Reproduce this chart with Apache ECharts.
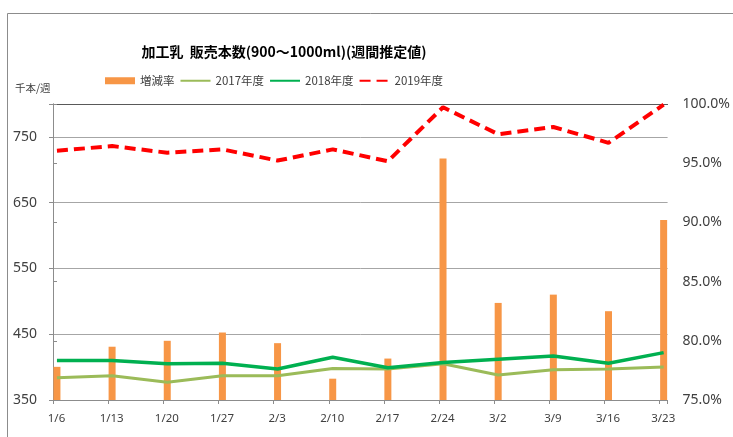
<!DOCTYPE html>
<html>
<head>
<meta charset="utf-8">
<script src="https://cdn.jsdelivr.net/npm/echarts@6/dist/echarts.min.js"></script>
<style>
html,body{margin:0;padding:0;background:#fff;}
#c{width:733px;height:437px;}
</style>
</head>
<body>
<div id="c"></div>
<script>
var categories = ['1/6','1/13','1/20','1/27','2/3','2/10','2/17','2/24','3/2','3/9','3/16','3/23'];
var rate  = [77.8, 79.5, 80.0, 80.7, 79.8, 76.8, 78.5, 95.4, 83.2, 83.9, 82.5, 90.2];
var y2017 = [384, 387, 377, 387, 387, 398, 397, 405, 388, 396, 397, 400];
var y2018 = [410, 410, 405, 406, 397, 415, 399, 407, 412, 417, 406, 422];
var y2019 = [729, 736, 726, 731, 714, 731, 713, 795, 754, 765, 741, 799];
var leftTicks = {min: 350, max: 800, interval: 100};
var rightTicks = {min: 75, max: 100, interval: 5};

// weekly points on a day scale: each week spans 7 days, point at the middle of its day
function pts(arr){ return arr.map(function(v,i){ return [i*7 + 0.5, v]; }); }

var FONT = '"Noto Sans CJK JP", "Noto Sans", sans-serif';
var NUMFONT = '"Noto Sans", "DejaVu Sans", sans-serif';
var chart = echarts.init(document.getElementById('c'), null, {renderer:'canvas'});
chart.setOption({
  animation: false,
  backgroundColor: '#fff',
  graphic: [
    {type:'rect', z:-10, shape:{x:7.5, y:13.5, width:800, height:500}, style:{fill:'none', stroke:'#8c8c8c', lineWidth:1}},
    {type:'text', x:284, y:52, style:{text:'加工乳  販売本数(900～1000ml)(週間推定値)', align:'center', verticalAlign:'middle', font:'bold 14px ' + FONT, fill:'#000'}},
    {type:'text', x:15, y:88, style:{text:'千本/週', align:'left', verticalAlign:'middle', font:'10.5px ' + FONT, fill:'#404040'}}
  ],
  legend: {
    left: 100, top: 70,
    itemWidth: 30, itemHeight: 7, itemGap: 5,
    textStyle: {fontSize: 11.5, color: '#404040', fontFamily: FONT},
    data: [
      {name:'増減率', icon:'rect'},
      {name:'2017年度', itemStyle:{opacity:0}},
      {name:'2018年度', itemStyle:{opacity:0}},
      {name:'2019年度', itemStyle:{opacity:0}}
    ]
  },
  grid: {left: 53, right: 61, top: 104, bottom: 37, containLabel: false},
  xAxis: [{
    type: 'value', min: 0, max: 78, interval: 7,
    axisLine: {show: true, lineStyle: {color: '#8c8c8c', width: 1}},
    axisTick: {show: true, length: 4, lineStyle: {color: '#8c8c8c'}},
    splitLine: {show: false},
    axisLabel: {
      margin: 13, fontSize: 11.5, color: '#404040', fontFamily: NUMFONT,
      padding: [0,0,0,7],
      formatter: function(v){ return (v % 7 === 0 && categories[v/7]) ? categories[v/7] : ''; }
    }
  },{
    type: 'value', position: 'top', min: 0, max: 78,
    axisLine: {show: true, lineStyle: {color: '#595959', width: 1}},
    axisTick: {show: false}, axisLabel: {show: false}, splitLine: {show: false}
  }],
  yAxis: [{
    type: 'value', position: 'left',
    min: leftTicks.min, max: leftTicks.max, interval: leftTicks.interval,
    axisLine: {show: true, lineStyle: {color: '#8c8c8c'}},
    axisTick: {show: true, length: 4, lineStyle: {color: '#8c8c8c'}},
    splitLine: {show: true, lineStyle: {color: '#a6a6a6', width: 1}},
    axisLabel: {margin: 16, fontSize: 14, color: '#404040', fontFamily: NUMFONT,
      formatter: function(v){ return v === 800 ? '' : String(v); }}
  },{
    type: 'value', position: 'right',
    min: rightTicks.min, max: rightTicks.max, interval: rightTicks.interval,
    axisLine: {show: true, lineStyle: {color: '#8c8c8c'}},
    axisTick: {show: true, length: 4, lineStyle: {color: '#8c8c8c'}},
    splitLine: {show: false},
    axisLabel: {margin: 15, fontSize: 14, color: '#404040', fontFamily: NUMFONT,
      formatter: function(v){ return v.toFixed(1) + '%'; }}
  }],
  series: [
    {name:'増減率', type:'bar', yAxisIndex:1, barWidth:7, data: pts(rate),
      itemStyle:{color:'#F79646'}, z:1},
    {name:'2017年度', type:'line', yAxisIndex:0, data: pts(y2017), symbol:'none',
      lineStyle:{color:'#9BBB59', width:3}, itemStyle:{color:'#9BBB59'}, z:3},
    {name:'2018年度', type:'line', yAxisIndex:0, data: pts(y2018), symbol:'none',
      lineStyle:{color:'#00B050', width:3.5}, itemStyle:{color:'#00B050'}, z:4},
    {name:'2019年度', type:'line', yAxisIndex:0, data: pts(y2019), symbol:'none',
      lineStyle:{color:'#FF0000', width:4, type:[11,6]}, itemStyle:{color:'#FF0000'}, z:5}
  ]
});
</script>
</body>
</html>
